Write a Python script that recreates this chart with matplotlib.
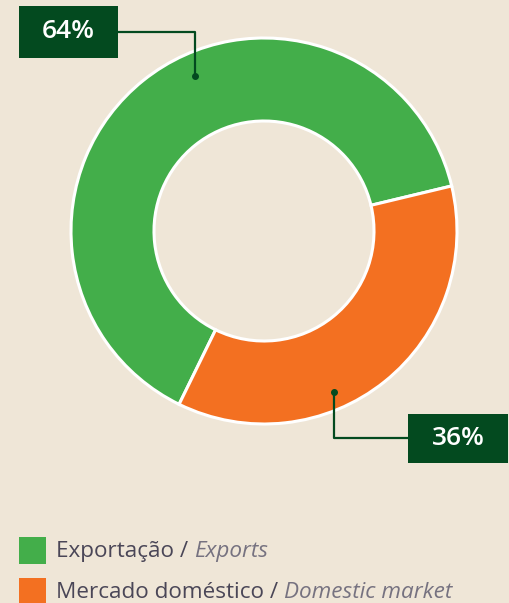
import matplotlib
matplotlib.use('Agg')
import matplotlib.pyplot as plt
from matplotlib.patches import Rectangle

# data
labels_pt = ['Exportação', 'Mercado doméstico']
labels_en = ['Exports', 'Domestic market']
shares = [64, 36]
colors = ['#43ae4a', '#f37021']

BG = '#efe6d7'
DARK = '#034a1f'
TXT = '#4a4657'
TXT2 = '#767280'
H = 603

plt.rcParams['font.family'] = ['Open Sans', 'DejaVu Sans']

fig = plt.figure(figsize=(5.10, 6.03), dpi=100)
fig.patch.set_facecolor(BG)
ax = fig.add_axes([0, 0, 1, 1])
ax.set_facecolor(BG)

# pixel helper: y measured from top
def py(y):
    return H - y

cx, cy, R, W = 264, py(231), 193, 83
ax.pie(shares, colors=colors, startangle=13.5, counterclock=True,
       center=(cx, cy), radius=R,
       wedgeprops=dict(width=W, edgecolor='white', linewidth=2.2))
ax.set_xlim(0, 510)
ax.set_ylim(0, H)
ax.set_aspect('auto')
ax.axis('off')

# ── value boxes with leader lines ─────────────────────────
def value_box(x0, y0, w, h, text, line_pts):
    ax.add_patch(Rectangle((x0, py(y0 + h)), w, h, facecolor=DARK,
                           edgecolor='none', zorder=5))
    ax.text(x0 + w / 2, py(y0 + h / 2), text, ha='center', va='center',
            fontsize=19, fontweight='semibold', color='white', zorder=6)
    xs = [p[0] for p in line_pts]
    ys = [py(p[1]) for p in line_pts]
    ax.plot(xs, ys, color=DARK, lw=1.6, zorder=4, solid_capstyle='butt')
    ax.plot(xs[-1], ys[-1], 'o', color=DARK, ms=4, zorder=4)

value_box(19, 6, 99, 52, f'{shares[0]}%', [(118, 32), (195, 32), (195, 76)])
value_box(408, 414, 100, 49, f'{shares[1]}%', [(408, 438), (334, 438), (334, 392)])

# ── legend ────────────────────────────────────────────────
fig.canvas.draw()
renderer = fig.canvas.get_renderer()
for i, (pt, en, c) in enumerate(zip(labels_pt, labels_en, colors)):
    top = 537 + i * 41
    ax.add_patch(Rectangle((19, py(top + 27)), 27, 27, facecolor=c,
                           edgecolor='none'))
    yc = py(top + 14)
    t1 = ax.text(56, yc, pt + ' / ', ha='left', va='center',
                 fontsize=16.2, color=TXT)
    bb = t1.get_window_extent(renderer)
    x2 = ax.transData.inverted().transform((bb.x1, bb.y0))[0]
    ax.text(x2, yc, en, ha='left', va='center', fontsize=16.2,
            color=TXT2, style='italic')

fig.savefig('out.png', dpi=100, facecolor=fig.get_facecolor())
